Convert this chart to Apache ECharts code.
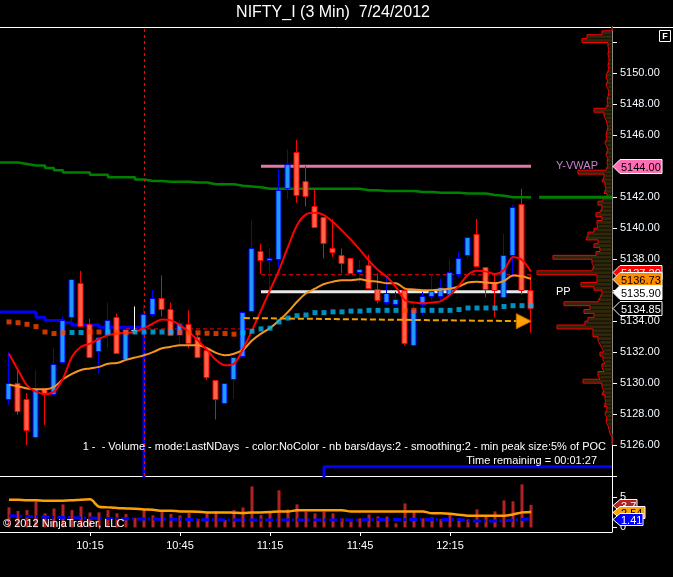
<!DOCTYPE html>
<html><head><meta charset="utf-8">
<script src="https://cdn.jsdelivr.net/npm/echarts@6/dist/echarts.min.js"></script>
<style>html,body{margin:0;padding:0;background:#000;}#c{width:673px;height:577px;}</style>
</head><body><div id="c"></div>
<script>
// ---------- DATA ----------
const opens  = [5128.95,5130.0,5129.0,5126.55,5129.6,5129.3,5131.35,5134.3,5136.45,5133.8,
                5132.1,5133.05,5134.3,5131.55,5133.45,5133.55,5134.45,5135.5,5134.8,5133.15,
                5133.8,5133.0,5132.15,5130.2,5128.7,5130.25,5131.75,5134.7,5138.55,5138.0,
                5138.05,5142.6,5144.9,5143.05,5141.45,5140.7,5138.75,5138.3,5138.05,5137.2,
                5137.6,5136.1,5135.3,5135.1,5136.0,5132.5,5135.1,5135.6,5135.6,5135.75,
                5137.0,5138.3,5139.6,5137.5,5136.55,5135.6,5138.3,5141.55,5136.0];
const highs  = [5132.0,5130.85,5129.35,5130.85,5129.65,5132.25,5134.3,5136.75,5137.25,5134.15,
                5133.0,5135.2,5134.5,5133.55,5134.95,5135.05,5136.0,5136.95,5135.2,5134.05,
                5134.7,5133.25,5132.15,5130.2,5130.0,5131.7,5134.6,5140.5,5139.0,5138.75,
                5143.8,5145.1,5145.7,5144.05,5142.55,5140.7,5140.6,5138.7,5138.05,5137.95,
                5138.3,5137.1,5136.95,5135.9,5136.2,5135.05,5135.9,5137.05,5136.75,5138.0,
                5138.45,5139.45,5140.6,5137.5,5137.1,5139.65,5141.5,5142.55,5136.95];
const lows   = [5128.6,5127.95,5126.0,5126.55,5127.3,5129.25,5131.25,5133.65,5133.65,5131.65,
                5130.6,5132.25,5132.0,5131.55,5133.2,5133.55,5134.3,5134.3,5133.15,5132.55,
                5132.25,5131.7,5130.2,5127.65,5128.7,5129.0,5131.75,5134.7,5137.05,5136.0,
                5137.5,5141.9,5141.65,5141.4,5140.1,5138.05,5138.15,5137.1,5137.1,5136.45,
                5136.1,5135.15,5135.05,5135.1,5132.45,5132.4,5134.4,5135.35,5135.35,5135.55,
                5136.85,5138.05,5137.5,5135.55,5134.25,5135.6,5136.85,5135.7,5133.25];
const closes = [5130.0,5128.2,5127.0,5129.65,5129.3,5131.25,5134.05,5136.75,5133.65,5131.65,
                5133.0,5134.05,5132.0,5133.5,5133.45,5134.45,5135.5,5134.8,5133.15,5133.9,
                5132.55,5131.7,5130.4,5129.0,5130.0,5131.7,5134.6,5138.75,5138.0,5138.1,
                5142.5,5144.15,5142.15,5142.05,5140.1,5139.0,5138.5,5137.8,5137.1,5137.4,
                5136.1,5135.4,5135.85,5135.4,5132.55,5134.8,5135.6,5135.95,5136.2,5137.2,
                5138.05,5139.45,5137.55,5136.05,5136.05,5138.3,5141.4,5136.0,5134.85];
const volumes = [3.28,2.68,2.84,4.2,2.3,3.1,3.77,2.84,3.44,2.46,
                 2.46,2.84,2.3,2.19,1.53,3.0,1.97,2.62,2.19,1.97,
                 2.35,1.37,2.3,2.68,1.2,2.84,3.28,6.72,2.02,2.35,
                 6.07,2.95,3.77,2.57,2.3,2.57,2.3,1.48,0.98,1.48,
                 2.13,1.8,1.8,0.66,3.93,2.57,1.48,1.64,1.37,2.13,
                 1.48,1.31,2.95,1.86,2.62,4.43,4.26,7.05,3.7];
const volumeAvg = [4.54,4.54,4.43,4.43,4.37,4.37,4.37,4.43,4.54,4.59,
                   3.39,3.28,3.17,3.11,3.06,2.95,2.9,2.73,2.73,2.62,
                   2.62,2.57,2.46,2.46,2.46,2.4,2.35,2.46,2.46,2.51,
                   2.62,2.62,2.79,2.79,2.79,2.79,2.79,2.79,2.62,2.62,
                   2.62,2.62,2.62,2.62,2.62,2.62,2.62,2.3,2.3,2.24,
                   2.08,1.91,1.91,1.91,1.91,1.91,2.13,2.46,2.54];
const volumeBase = [1.91,1.85,1.8,1.75,1.7,1.66,1.64,1.6,1.55,1.53,
                    1.5,1.47,1.44,1.42,1.4,1.38,1.37,1.35,1.33,1.32,
                    1.3,1.28,1.26,1.24,1.22,1.2,1.2,1.2,1.2,1.2,
                    1.2,1.2,1.2,1.2,1.2,1.2,1.2,1.2,1.2,1.2,
                    1.3,1.3,1.3,1.3,1.3,1.3,1.3,1.3,1.3,1.3,
                    1.3,1.1,1.05,1.05,1.05,1.1,1.2,1.3,1.41];
const fastEMA = [5131.9,5130.85,5129.85,5129.45,5129.3,5129.45,5130.3,5131.7,5132.35,5132.55,
                 5132.85,5133.1,5133.2,5133.25,5133.3,5133.55,5133.85,5134.1,5134.05,5133.75,
                 5133.3,5132.75,5132.15,5131.5,5131.15,5131.25,5132.2,5133.4,5134.7,5136.0,
                 5137.3,5138.8,5140.2,5140.9,5141.0,5140.85,5140.4,5139.85,5139.25,5138.6,
                 5137.9,5137.3,5136.85,5136.2,5135.35,5135.2,5135.15,5135.2,5135.3,5135.7,
                 5136.3,5137.0,5137.25,5137.2,5137.05,5137.3,5138.15,5137.95,5137.2];
const slowEMA = [5129.9,5129.8,5129.65,5129.6,5129.6,5129.75,5130.25,5130.6,5130.85,5130.95,
                 5131.05,5131.25,5131.3,5131.5,5131.65,5131.8,5132.0,5132.25,5132.35,5132.45,
                 5132.45,5132.45,5132.25,5131.95,5131.8,5131.9,5132.15,5132.75,5133.2,5133.55,
                 5134.05,5134.6,5135.25,5135.8,5136.1,5136.4,5136.55,5136.65,5136.65,5136.7,
                 5136.6,5136.55,5136.45,5136.45,5136.1,5136.05,5136.0,5136.0,5136.05,5136.1,
                 5136.25,5136.5,5136.55,5136.5,5136.45,5136.6,5136.95,5136.9,5136.73];
const dotValues = [5133.95,5133.9,5133.8,5133.65,5133.3,5133.2,5133.25,5133.27,5133.27,5133.3,
                   5133.3,5133.3,5133.28,5133.28,5133.3,5133.3,5133.3,5133.3,5133.3,5133.27,
                   5133.25,5133.25,5133.22,5133.2,5133.2,5133.16,5133.25,5133.35,5133.5,5133.55,
                   5133.95,5134.2,5134.35,5134.4,5134.55,5134.55,5134.6,5134.6,5134.65,5134.65,
                   5134.7,5134.7,5134.7,5134.7,5134.7,5134.7,5134.7,5134.7,5134.7,5134.7,
                   5134.75,5134.85,5134.85,5134.85,5134.85,5134.95,5135.0,5135.0,5135.0];
const dotRising = [0,0,0,0,0,0,0,1,1,0,
                   0,1,0,0,1,1,1,1,1,0,
                   0,0,0,0,0,0,1,1,1,1,
                   1,1,1,1,1,1,1,1,1,1,
                   1,1,1,1,0,0,1,1,1,1,
                   1,1,1,1,1,1,1,1,1];
const greenLine = [5144.25,5144.15,5144.05,5144.05,5143.9,5143.75,5143.6,5143.6,5143.6,5143.45,
                   5143.45,5143.3,5143.3,5143.3,5143.15,5143.05,5143.05,5143.0,5143.0,5143.0,
                   5142.95,5142.95,5142.85,5142.85,5142.85,5142.75,5142.7,5142.65,5142.55,5142.55,
                   5142.55,5142.55,5142.55,5142.55,5142.55,5142.55,5142.55,5142.55,5142.55,5142.45,
                   5142.45,5142.4,5142.4,5142.4,5142.4,5142.35,5142.35,5142.3,5142.3,5142.3,
                   5142.25,5142.25,5142.25,5142.15,5142.1,5142.0,5142.0,5142.0,5142.0];
const blueLine = [5134.6,5134.6,5134.6,5134.25,5134.05,5134.05,5133.9,5133.75,5133.75,5133.75,
                  5133.6,5133.6,5133.6,5133.6,5133.6,5120,5120,5120,5120,5120,
                  5120,5120,5120,5120,5120,5120,5120,5120,5120,5120,
                  5120,5120,5120,5120,5120,5124.6,5124.6,5124.6,5124.6,5124.6,
                  5124.6,5124.6,5124.6,5124.6,5124.6,5124.6,5124.6,5124.6,5124.6,5124.6,
                  5124.6,5124.6,5124.6,5124.6,5124.6,5124.6,5124.6,5124.6,5124.6];
const redDashLevel = [null,null,null,null,null,null,null,null,null,null,
                      null,null,null,5133.5,5133.5,5133.5,5133.5,5133.5,5133.5,5133.5,
                      5133.5,5133.5,5133.5,5133.5,5133.5,5133.5,5133.5,null,5137.0,5137.0,
                      5137.0,5137.0,5137.0,5137.0,5137.0,5137.0,5137.0,5137.0,5137.0,5137.0,
                      5137.0,5137.0,5137.0,5137.0,5137.0,5137.0,5137.0,5137.0,5137.0,5137.0,
                      5137.0,5137.0,5137.0,5137.0,5137.0,5137.0,5137.0,5137.0,5137.0];
const timeLabels = {10:'10:15',20:'10:45',30:'11:15',40:'11:45',50:'12:15'};
const yVwap = 5144.00, yVwapStartBar = 28;
const pivotPP = 5135.90, pivotStartBar = 28;
const sessionBreakBar = 15;
const arrowStart = [26.1, 5134.2], arrowEnd = [57.2, 5134.0];
// volume profile, bins of 0.25 pt, from 5152.75 (bin low) downward
const profileTopLow = 5152.75, profileStep = 0.25;
const profileVolume = [
  0,200,500,600,   80,60,80,60,     60,80,60,100,    120,80,120,80,
  60,80,100,80,    120,360,160,120, 100,80,100,120,  100,140,100,80,
  120,80,100,80,   120,680,160,200, 140,120,160,100, 180,280,200,240,
  320,200,300,280, 360,480,520,280, 360,240,320,1180,400,360,400,1500,
  300,300,620,360, 200,240,280,960, 440,560,360,480, 540,1100,380,380,
  280,240,200,160, 240,180,140,200, 160,280,240,580, 200,160,200,140,
  120,160,100,140, 100,120,80,60,   40,0,0,0];
const PROFILE_AXIS_MAX = 12240;

// ---------- BUILD ----------
const N = closes.length;
const xs = closes.map((_, i) => i + 1);
const last = N - 1;
const X_MIN = 0, X_MAX = 68;
const candleData = xs.map((x, i) => [x, opens[i], closes[i], lows[i], highs[i]]);
const pair = arr => arr.map((v, i) => [xs[i], v]);

function renderCandle(params, api) {
  const x = api.value(0), o = api.value(1), c = api.value(2), l = api.value(3), h = api.value(4);
  const pO = api.coord([x, o]), pC = api.coord([x, c]), pL = api.coord([x, l]), pH = api.coord([x, h]);
  const doji = o === c, up = c > o;
  const stroke = doji ? '#ffffff' : (up ? '#0000ff' : '#ff0000');
  const fill = doji ? '#ffffff' : (up ? '#1e9aff' : '#ff6347');
  const cx = Math.round(pO[0]) - 0.5;
  const top = Math.min(pO[1], pC[1]), bot = Math.max(pO[1], pC[1]);
  return {type: 'group', children: [
    {type: 'line', shape: {x1: cx, y1: pH[1], x2: cx, y2: pL[1]}, style: {stroke, lineWidth: 1}},
    doji ? {type: 'line', shape: {x1: cx - 3, y1: Math.round(top) + 0.5, x2: cx + 3, y2: Math.round(top) + 0.5}, style: {stroke, lineWidth: 1}}
         : {type: 'rect', shape: {x: cx - 2.5, y: Math.round(top) + 0.5, width: 5, height: Math.max(Math.round(bot - top), 1)}, style: {fill, stroke, lineWidth: 1}}
  ]};
}

const profileData = profileVolume.map((v, i) => [v, profileTopLow - i * profileStep]);
function renderProfile(params, api) {
  const v = api.value(0), lo = api.value(1);
  const a = api.coord([0, lo]), b = api.coord([v, lo + profileStep]);
  return {type: 'rect', shape: {x: b[0], y: b[1], width: a[0] - b[0], height: a[1] - b[1]},
          style: {fill: '#2f280c', stroke: '#171304', lineWidth: 1}};
}
const profileOutline = [];
profileOutline.push([0, profileTopLow + profileStep]);
profileVolume.forEach((v, i) => {
  const lo = profileTopLow - i * profileStep;
  profileOutline.push([v, lo + profileStep]);
  profileOutline.push([v, lo]);
});
profileOutline.push([0, profileTopLow - (profileVolume.length - 1) * profileStep]);

const priceTags = [
  {value: yVwap, bg: '#ff6eb4', fg: '#000000', border: '#ffffff', w: 50},
  {value: fastEMA[last], bg: '#ff0000', fg: '#ffffff', border: '#ffffff', w: 50},
  {value: slowEMA[last], bg: '#ff8c00', fg: '#000000', border: '#ffffff', w: 50},
  {value: pivotPP, bg: '#ffffff', fg: '#000000', border: '#ffffff', w: 50},
  {value: closes[last], bg: '#000000', fg: '#ffffff', border: '#ffffff', w: 50}
];
const volTags = [
  {value: volumes[last], bg: '#b22222', fg: '#ffffff', border: '#ffffff', w: 25},
  {value: volumeAvg[last], bg: '#ffa500', fg: '#000000', border: '#ffffff', w: 33},
  {value: volumeBase[last], bg: '#0000ff', fg: '#ffffff', border: '#ffffff', w: 31}
];
function makeTagRenderer(tags, h, decimals, fontSize) {
  return function (params, api) {
    const t = tags[params.dataIndex];
    const p = api.coord([api.value(0), api.value(1)]);
    const x = p[0], y = Math.round(p[1]) + 0.5;
    return {type: 'group', children: [
      {type: 'polygon', shape: {points: [[x + 1, y], [x + 8, y - h], [x + t.w, y - h], [x + t.w, y + h], [x + 8, y + h]]},
       style: {fill: t.bg, stroke: t.border, lineWidth: 1}},
      {type: 'text', x: x + 9, y: y + 1,
       style: {text: decimals == null ? String(t.value) : t.value.toFixed(decimals), fill: t.fg,
               font: fontSize + 'px "Liberation Sans"', verticalAlign: 'middle', align: 'left'}}
    ]};
  };
}

const chart = echarts.init(document.getElementById('c'), null, {renderer: 'canvas'});
const white = '#ffffff';
const option = {
  backgroundColor: '#000000',
  animation: false,
  grid: [
    {left: 0, top: 27, width: 612, height: 449, show: false},
    {left: 0, top: 477, width: 612, height: 55, show: false}
  ],
  xAxis: [
    {gridIndex: 0, type: 'value', min: X_MIN, max: X_MAX, axisLine: {show: true, onZero: false, lineStyle: {color: white}},
     axisTick: {show: false}, axisLabel: {show: false}, splitLine: {show: false}},
    {gridIndex: 1, type: 'value', min: X_MIN, max: X_MAX, axisLine: {show: true, onZero: false, lineStyle: {color: white}},
     axisTick: {show: true, length: 4, customValues: [10, 20, 30, 40, 50], lineStyle: {color: white}},
     axisLabel: {show: true, customValues: [10, 20, 30, 40, 50], formatter: v => timeLabels[v] || '',
                 color: white, fontSize: 11, fontFamily: 'Liberation Sans', margin: 8},
     splitLine: {show: false}},
    {gridIndex: 0, type: 'value', min: 0, max: PROFILE_AXIS_MAX, inverse: true, show: false}
  ],
  yAxis: [
    {gridIndex: 0, type: 'value', position: 'right', min: 5124, max: 5153, interval: 2,
     axisLine: {show: true, onZero: false, lineStyle: {color: white}},
     axisTick: {show: true, length: 5, lineStyle: {color: white}},
     axisLabel: {color: '#f4faff', fontSize: 11, fontFamily: 'Liberation Sans', margin: 8,
                 formatter: v => (v % 2 !== 0 || v <= 5124 || v >= 5152) ? '' : v.toFixed(2)},
     splitLine: {show: false}},
    {gridIndex: 1, type: 'value', position: 'right', min: -0.75, max: 8.25,
     axisLine: {show: true, onZero: false, lineStyle: {color: white}},
     axisTick: {show: true, length: 5, customValues: [0, 5], lineStyle: {color: white}},
     axisLabel: {show: true, customValues: [0, 5], color: white, fontSize: 11, fontFamily: 'Liberation Sans', margin: 8},
     splitLine: {show: false}}
  ],
  graphic: [
    {type: 'line', shape: {x1: 0, y1: 27.5, x2: 673, y2: 27.5}, style: {stroke: white, lineWidth: 1}},
    {type: 'text', x: 333, y: 13, style: {text: 'NIFTY_I (3 Min)  7/24/2012', fill: white, font: '16px "Liberation Sans"', align: 'center', verticalAlign: 'middle'}},
    {type: 'rect', shape: {x: 659.5, y: 30.5, width: 11, height: 11}, style: {fill: '#000', stroke: white, lineWidth: 1}},
    {type: 'text', x: 665, y: 36.5, style: {text: 'F', fill: white, font: 'bold 9px "Liberation Sans"', align: 'center', verticalAlign: 'middle'}},
    {type: 'text', x: 606, y: 447, z: 100, style: {text: '1 -  - Volume - mode:LastNDays  - color:NoColor - nb bars/days:2 - smoothing:2 - min peak size:5% of POC', fill: white, font: '11px "Liberation Sans"', align: 'right', verticalAlign: 'middle'}},
    {type: 'text', x: 597, y: 461, z: 100, style: {text: 'Time remaining = 00:01:27', fill: white, font: '11px "Liberation Sans"', align: 'right', verticalAlign: 'middle'}},
    {type: 'text', x: 3, y: 524, z: 100, style: {text: '\u00a9 2012 NinjaTrader, LLC', fill: white, font: '11px "Liberation Sans"', align: 'left', verticalAlign: 'middle'}}
  ],
  series: [
    {type: 'custom', name: 'profileFill', xAxisIndex: 2, yAxisIndex: 0, z: 1, renderItem: renderProfile,
     encode: {x: 0, y: 1}, data: profileData},
    {type: 'line', name: 'profileOutline', xAxisIndex: 2, yAxisIndex: 0, z: 2, data: profileOutline,
     showSymbol: false, symbol: 'none', lineStyle: {color: '#ff0000', width: 1}},
    {type: 'line', name: 'sessionBreak', xAxisIndex: 0, yAxisIndex: 0, z: 2, data: [],
     markLine: {silent: true, symbol: 'none', label: {show: false},
                lineStyle: {color: '#ff0000', type: [3, 3], width: 1},
                data: [{xAxis: sessionBreakBar + 1}]}},
    {type: 'line', name: 'green', xAxisIndex: 0, yAxisIndex: 0, z: 3, step: 'end',
     data: [[X_MIN, greenLine[0]]].concat(pair(greenLine)),
     symbol: 'none', lineStyle: {color: '#008000', width: 2.5}},
    {type: 'line', name: 'greenExt', xAxisIndex: 0, yAxisIndex: 0, z: 3,
     data: [[xs[last] + 0.9, greenLine[last]], [X_MAX, greenLine[last]]],
     symbol: 'none', lineStyle: {color: '#008000', width: 3}},
    {type: 'line', name: 'blue', xAxisIndex: 0, yAxisIndex: 0, z: 3, step: 'end',
     data: [[X_MIN, blueLine[0]]].concat(pair(blueLine), [[X_MAX, blueLine[last]]]),
     symbol: 'none', lineStyle: {color: '#0000ff', width: 3}},
    {type: 'line', name: 'redDash', xAxisIndex: 0, yAxisIndex: 0, z: 3, step: 'end', connectNulls: false,
     data: pair(redDashLevel), symbol: 'none', lineStyle: {color: '#ff0000', width: 1, type: [4, 3]}},
    {type: 'line', name: 'yvwap', xAxisIndex: 0, yAxisIndex: 0, z: 4,
     data: [[yVwapStartBar + 1, yVwap], [xs[last], yVwap]], symbol: 'none',
     lineStyle: {color: '#e078a8', width: 3},
     endLabel: {show: true, formatter: 'Y-VWAP', color: '#c880d0', fontSize: 11, fontFamily: 'Liberation Sans', distance: 25}},
    {type: 'line', name: 'pp', xAxisIndex: 0, yAxisIndex: 0, z: 4,
     data: [[pivotStartBar + 1, pivotPP], [xs[last], pivotPP]], symbol: 'none',
     lineStyle: {color: '#e8e8e8', width: 3},
     endLabel: {show: true, formatter: 'PP', color: white, fontSize: 11, fontFamily: 'Liberation Sans', distance: 25}},
    {type: 'custom', name: 'candles', xAxisIndex: 0, yAxisIndex: 0, z: 5, renderItem: renderCandle,
     encode: {x: 0, y: [1, 2, 3, 4]}, data: candleData},
    {type: 'line', name: 'slowEMA', xAxisIndex: 0, yAxisIndex: 0, z: 6, smooth: 0.3, data: pair(slowEMA),
     symbol: 'none', lineStyle: {color: '#f7941d', width: 2}},
    {type: 'line', name: 'fastEMA', xAxisIndex: 0, yAxisIndex: 0, z: 6, smooth: 0.3, data: pair(fastEMA),
     symbol: 'none', lineStyle: {color: '#ff0000', width: 2}},
    {type: 'scatter', name: 'dots', xAxisIndex: 0, yAxisIndex: 0, z: 7, symbol: 'rect', symbolSize: 5,
     data: dotValues.map((v, i) => ({value: [xs[i], v], itemStyle: {color: dotRising[i] ? '#00b4f0' : '#ff4500'}}))},
    {type: 'line', name: 'arrow', xAxisIndex: 0, yAxisIndex: 0, z: 8,
     data: [{value: [arrowStart[0] + 1, arrowStart[1]], symbol: 'none'},
            {value: [arrowEnd[0] + 1, arrowEnd[1]], symbol: 'triangle', symbolSize: [15, 15], symbolRotate: -90}],
     showSymbol: true, lineStyle: {color: '#f0a000', width: 2, type: [6, 3]},
     itemStyle: {color: '#ffa000', borderColor: '#c07000', borderWidth: 1}},
    {type: 'custom', name: 'priceTags', xAxisIndex: 0, yAxisIndex: 0, z: 20, clip: false,
     renderItem: makeTagRenderer(priceTags, 7, 2, 11), data: priceTags.map(t => [X_MAX, t.value])},
    {type: 'bar', name: 'volume', xAxisIndex: 1, yAxisIndex: 1, barWidth: 3, z: 2,
     data: pair(volumes), itemStyle: {color: '#b22222'}},
    {type: 'line', name: 'volBase', xAxisIndex: 1, yAxisIndex: 1, z: 3, data: pair(volumeBase),
     symbol: 'none', lineStyle: {color: '#0000ff', width: 3, type: [8, 3, 2, 3]}},
    {type: 'line', name: 'volAvg', xAxisIndex: 1, yAxisIndex: 1, z: 4, smooth: 0.3, data: pair(volumeAvg),
     symbol: 'none', lineStyle: {color: '#ffa000', width: 2.5}},
    {type: 'custom', name: 'volTags', xAxisIndex: 1, yAxisIndex: 1, z: 20, clip: false,
     renderItem: makeTagRenderer(volTags, 6, null, 11), data: volTags.map(t => [X_MAX, t.value])}
  ]
};
chart.setOption(option);
</script>
</body></html>
